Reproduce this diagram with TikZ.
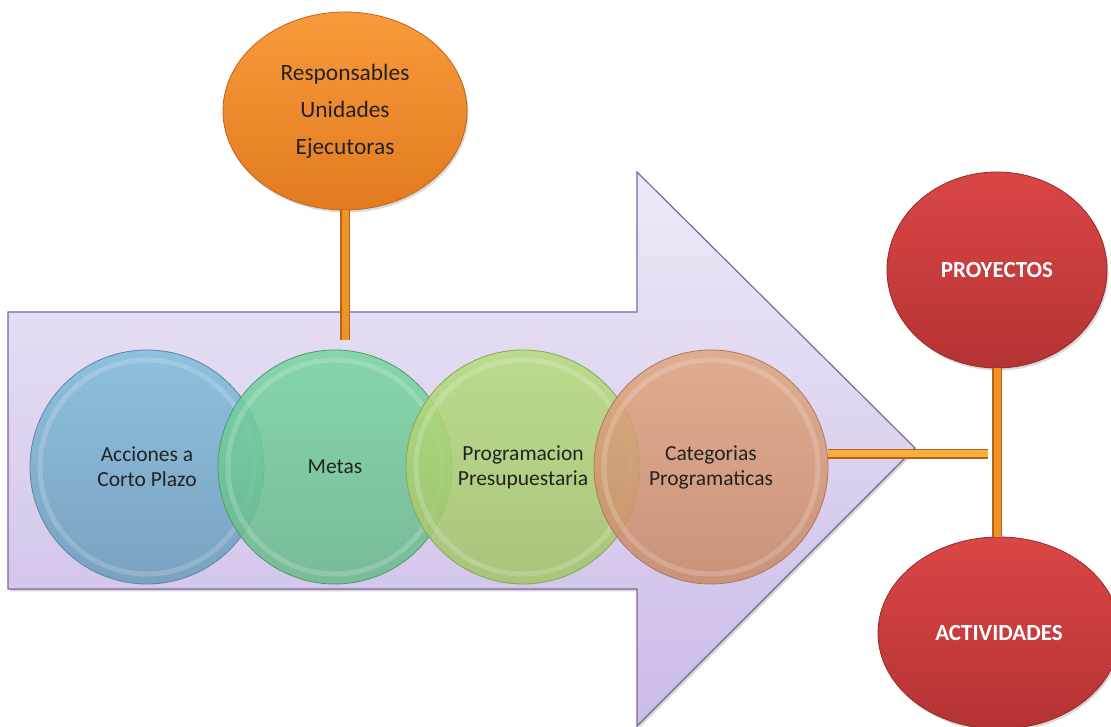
\documentclass[tikz,border=0pt]{standalone}
\usepackage{fontspec}
\setmainfont{Carlito}
\usetikzlibrary{shapes.geometric,shadows}
\definecolor{arrowtop}{HTML}{EEE9F7}
\definecolor{arrowbot}{HTML}{CBBBE8}
\definecolor{arrowedge}{HTML}{8064A2}
\definecolor{bluetop}{HTML}{80BCDC}
\definecolor{bluebot}{HTML}{6A9CBA}
\definecolor{blueedge}{HTML}{5A86A3}
\definecolor{greentop}{HTML}{76D5A0}
\definecolor{greenbot}{HTML}{68BA8A}
\definecolor{greenedge}{HTML}{4E9A6C}
\definecolor{limetop}{HTML}{B6DC7C}
\definecolor{limebot}{HTML}{A2C468}
\definecolor{limeedge}{HTML}{86A84E}
\definecolor{salmontop}{HTML}{E0A57E}
\definecolor{salmonbot}{HTML}{C88A67}
\definecolor{salmonedge}{HTML}{AE7858}
\definecolor{orangetop}{HTML}{F89A3C}
\definecolor{orangebot}{HTML}{E27A20}
\definecolor{orangeedge}{HTML}{C0651A}
\definecolor{redtop}{HTML}{DA4646}
\definecolor{redbot}{HTML}{B53333}
\definecolor{rededge}{HTML}{962828}
\definecolor{stemfill}{HTML}{F0922C}
\definecolor{stemlight}{HTML}{F6AE3E}
\definecolor{stemedge}{HTML}{B8620F}
\definecolor{textdark}{HTML}{222222}
\begin{document}
\begin{tikzpicture}[x=1pt,y=1pt,inner sep=0pt,outer sep=0pt,
bigarrow/.style={draw=arrowedge,line width=1.2pt,top color=arrowtop,bottom color=arrowbot,
  drop shadow={opacity=0.35,shadow xshift=1.5pt,shadow yshift=-2.5pt}},
bubble/.style={circle,minimum size=234pt,draw=#1edge,line width=0.8pt,top color=#1top,bottom color=#1bot,
  fill opacity=0.85,text opacity=1,align=center,text=textdark,font=\fontsize{21.5}{25}\selectfont},
ring/.style={draw=white,draw opacity=0.18,line width=5pt},
balloon/.style={ellipse,draw=#1edge,line width=0.8pt,top color=#1top,bottom color=#1bot,align=center,
  drop shadow={opacity=0.3,shadow xshift=1.5pt,shadow yshift=-2.5pt}},
stem/.style={line width=10pt,draw=stemedge,postaction={draw=#1,line width=7pt}},
stem/.default=stemfill]
\useasboundingbox (0,0) rectangle (1111,727);
% big arrow
\draw[bigarrow] (8,415) -- (637,415) -- (637,555) -- (915,279) -- (637,1) -- (637,138) -- (8,138) -- cycle;
% chain of circles
\foreach \n/\c/\x/\t in {acciones/blue/147/{Acciones a\\Corto Plazo},metas/green/335/{Metas},
  programa/lime/523/{Programacion\\Presupuestaria},categorias/salmon/711/{Categorias\\Programaticas}}{
  \node[bubble=\c] (\n) at (\x,260) {\t};
  \draw[ring] (\n.center) circle (107);
}
\node[balloon=orange,minimum width=244pt,minimum height=198pt,text=textdark,
  font=\fontsize{23.4}{37}\selectfont] (respons) at (345,616) {Responsables\\Unidades\\Ejecutoras};
\node[balloon=red,minimum width=220pt,minimum height=196pt,text=white,
  font=\fontsize{23}{28}\selectfont\bfseries] (proyectos) at (997,457) {PROYECTOS};
\node[balloon=red,minimum width=242pt,minimum height=192pt,text=white,
  font=\fontsize{23}{28}\selectfont\bfseries] (actividades) at (999,94) {ACTIVIDADES};
\coordinate (junction) at (988,273);
% connectors
\draw[stem] (respons.south) -- ([yshift=10pt]respons.south |- metas.north);
\draw[stem=stemlight] (junction -| categorias.east) -- (junction);
\draw[stem] (proyectos.south) -- (proyectos.south |- actividades.north);
\end{tikzpicture}
\end{document}
